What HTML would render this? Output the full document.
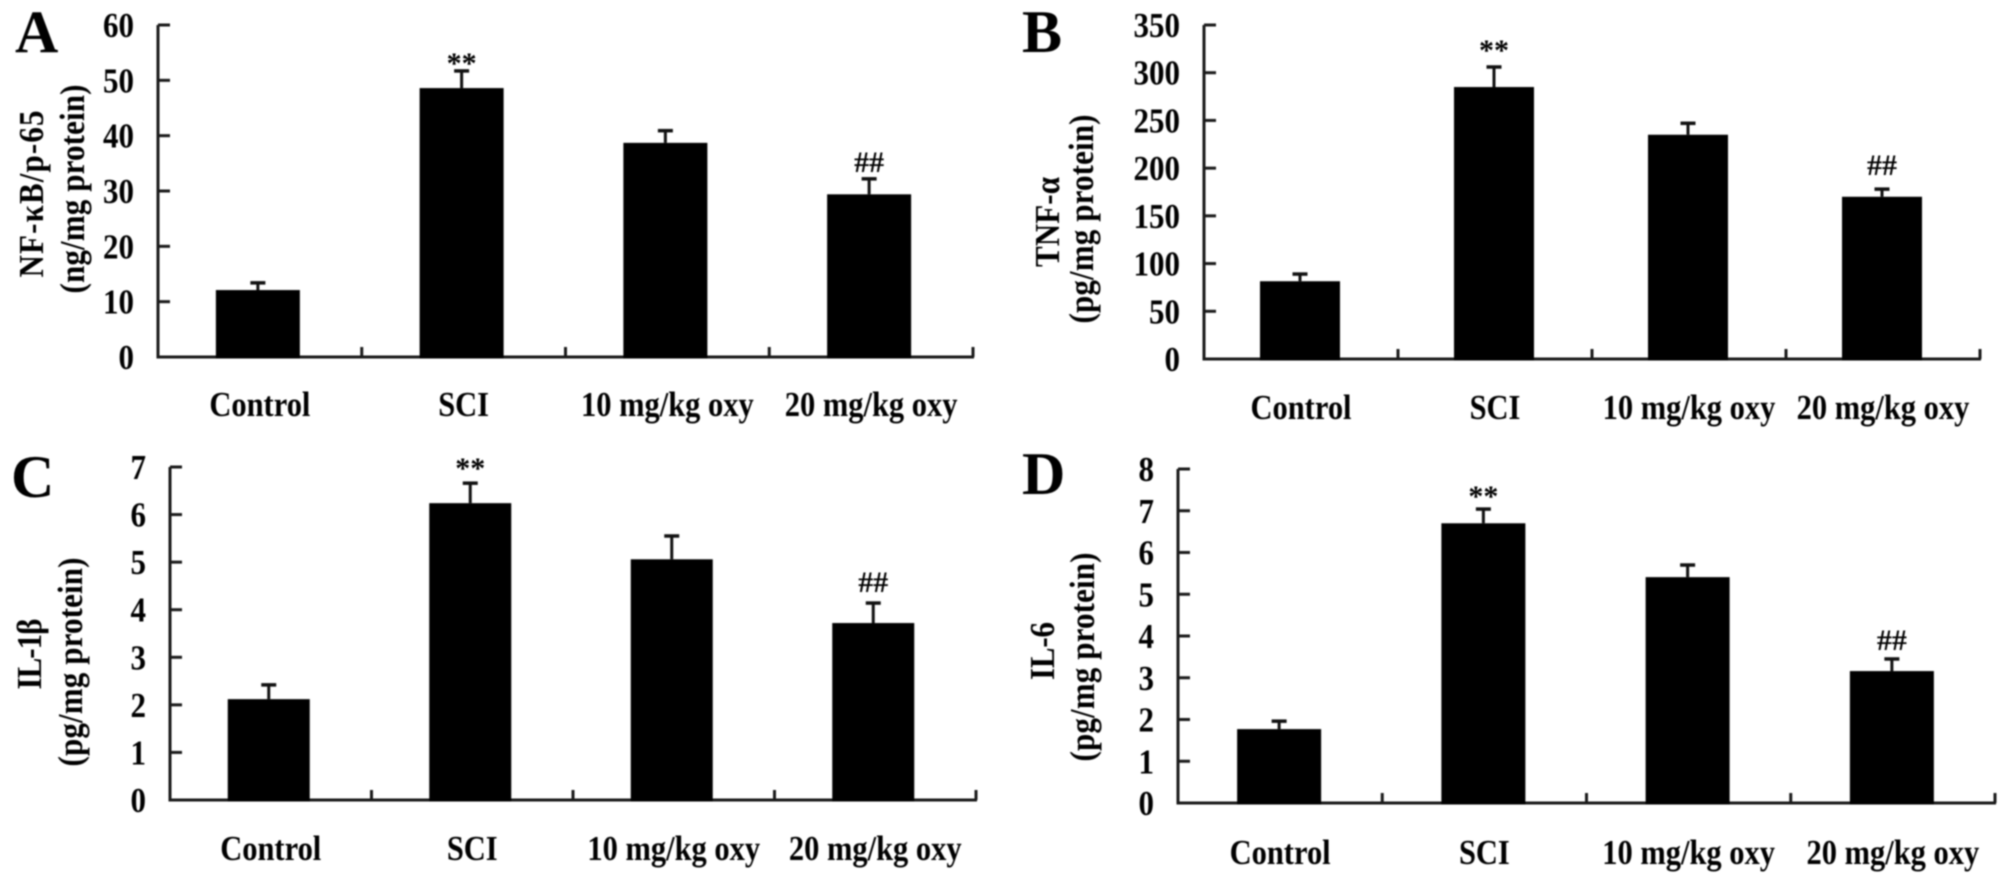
<!DOCTYPE html>
<html lang="en">
<head>
<meta charset="utf-8">
<title>Cytokine levels bar charts</title>
<style>
html,body{margin:0;padding:0;background:#fff;width:2008px;height:883px;overflow:hidden}
svg{display:block;filter:blur(0.7px)}
text{font-family:"Liberation Serif","Noto Serif CJK SC",serif;font-weight:bold;fill:#000}
</style>
</head>
<body>
<svg id="figure" xmlns="http://www.w3.org/2000/svg" width="2008" height="883" viewBox="0 0 2008 883"></svg>
<script>
const categories = ['Control', 'SCI', '10 mg/kg oxy', '20 mg/kg oxy'];
const markers = ['', '**', '', '##'];

const ticksA = [0, 10, 20, 30, 40, 50, 60];
const valuesA = [12.1, 48.6, 38.7, 29.4];
const errorsA = [1.3, 3.1, 2.2, 2.8];

const ticksB = [0, 50, 100, 150, 200, 250, 300, 350];
const valuesB = [81.5, 285, 235, 170];
const errorsB = [7.5, 21, 12, 8];

const ticksC = [0, 1, 2, 3, 4, 5, 6, 7];
const valuesC = [2.12, 6.24, 5.06, 3.72];
const errorsC = [0.3, 0.42, 0.49, 0.42];

const ticksD = [0, 1, 2, 3, 4, 5, 6, 7, 8];
const valuesD = [1.77, 6.7, 5.41, 3.16];
const errorsD = [0.19, 0.34, 0.29, 0.29];

const svg = document.getElementById('figure');
const NS = 'http://www.w3.org/2000/svg';
const STRETCH = 1.13;

function node(tag, attrs, parent, content) {
  const el = document.createElementNS(NS, tag);
  for (const k in attrs) el.setAttribute(k, attrs[k]);
  if (content !== undefined) el.textContent = content;
  parent.appendChild(el);
  return el;
}

function drawPanel(p) {
  const g = node('g', {}, svg);
  
  

  const maxTick = p.ticks[p.ticks.length - 1];
  const y = v => p.base - (v / maxTick) * (p.base - p.top);
  const band = (p.right - p.left) / categories.length;
  const cx = i => p.left + band * (i + 0.5);

  const letter = node('text', {x: p.letterX, y: p.letterY, 'font-size': 60}, g, p.letter);
  
  

  const t1 = node('text', {transform: 'translate(' + p.t1x + ',' + p.t1y + ') rotate(-90) scale(1,' + STRETCH + ')', 'text-anchor': 'middle', 'font-size': 31, textLength: p.t1len, lengthAdjust: 'spacing'}, g, p.title1);
  
  
  const t2 = node('text', {transform: 'translate(' + p.t2x + ',' + p.t2y + ') rotate(-90) scale(1,' + STRETCH + ')', 'text-anchor': 'middle', 'font-size': 31, textLength: 209, lengthAdjust: 'spacing'}, g, p.title2);
  
  

  const yAxis = node('line', {x1: p.left, x2: p.left, y1: p.top, y2: p.base + 1.5, stroke: '#1a1a1a', 'stroke-width': 3}, g);
  
  
  const xAxis = node('line', {x1: p.left, x2: p.right + 1, y1: p.base, y2: p.base, stroke: '#1a1a1a', 'stroke-width': 3}, g);
  
  

  p.ticks.forEach(t => {
    const yy = y(t);
    if (t !== 0) {
      const tm = node('line', {x1: p.left, x2: p.left + 12, y1: yy, y2: yy, stroke: '#1a1a1a', 'stroke-width': 3}, g);
      
      
    }
    const lb = node('text', {transform: 'translate(' + (p.left - 24) + ',' + (yy + 12) + ') scale(1,' + STRETCH + ')', 'text-anchor': 'end', 'font-size': 31}, g, String(t));
    
    
  });

  categories.forEach((c, i) => {
    const tickX = p.left + band * (i + 1);
    const xt = node('line', {x1: tickX, x2: tickX, y1: p.base - 10, y2: p.base, stroke: '#1a1a1a', 'stroke-width': 3}, g);
    
    

    const barX = cx(i) + p.barShift;
    const topY = y(p.values[i]);
    const errY = y(p.values[i] + p.errors[i]);

    const stem = node('line', {x1: barX, x2: barX, y1: errY, y2: topY, stroke: '#111', 'stroke-width': 3}, g);
    
    
    const cap = node('line', {x1: barX - 7.5, x2: barX + 7.5, y1: errY, y2: errY, stroke: '#111', 'stroke-width': 3.5}, g);
    
    

    const bar = node('rect', {x: barX - p.barW / 2, y: topY, width: p.barW, height: p.base + 1.5 - topY, fill: '#000'}, g);
    
    

    const lab = node('text', {transform: 'translate(' + cx(i) + ',' + p.catY + ') scale(1,' + STRETCH + ')', 'text-anchor': 'middle', 'font-size': 30.5}, g, c);
    
    

    if (markers[i]) {
      const gap = markers[i] === '**' ? p.starGap : p.hashGap;
      const mk = node('text', {x: barX, y: errY + gap, 'text-anchor': 'middle', 'font-size': 30, 'font-weight': markers[i] === '##' ? 'bold' : 'normal'}, g, markers[i]);
      
      
    }
  });
}

drawPanel({letter: 'A', letterX: 15, letterY: 52, title1: 'NF-κB/p-65', title2: '(ng/mg protein)', t1len: 167, t1x: 43, t1y: 194, t2x: 84, t2y: 189,
  ticks: ticksA, values: valuesA, errors: errorsA, left: 158, right: 973, top: 25, base: 357, barW: 84, barShift: -2, catY: 416, starGap: 2, hashGap: -7});
drawPanel({letter: 'B', letterX: 1022, letterY: 52, title1: 'TNF-α', title2: '(pg/mg protein)', t1len: 90, t1x: 1059, t1y: 222, t2x: 1093, t2y: 219,
  ticks: ticksB, values: valuesB, errors: errorsB, left: 1204, right: 1980, top: 25, base: 359, barW: 80, barShift: -1, catY: 419, starGap: -7, hashGap: -14});
drawPanel({letter: 'C', letterX: 11, letterY: 497, title1: 'IL-1β', title2: '(pg/mg protein)', t1len: 71, t1x: 41, t1y: 654, t2x: 82, t2y: 662,
  ticks: ticksC, values: valuesC, errors: errorsC, left: 170, right: 976, top: 467, base: 800, barW: 82, barShift: -2, catY: 860, starGap: -5, hashGap: -11});
drawPanel({letter: 'D', letterX: 1022, letterY: 494, title1: 'IL-6', title2: '(pg/mg protein)', t1len: 58, t1x: 1054, t1y: 651, t2x: 1094, t2y: 657,
  ticks: ticksD, values: valuesD, errors: errorsD, left: 1178, right: 1995, top: 469, base: 803, barW: 84, barShift: -1, catY: 864, starGap: -3, hashGap: -9});
</script>
</body>
</html>
